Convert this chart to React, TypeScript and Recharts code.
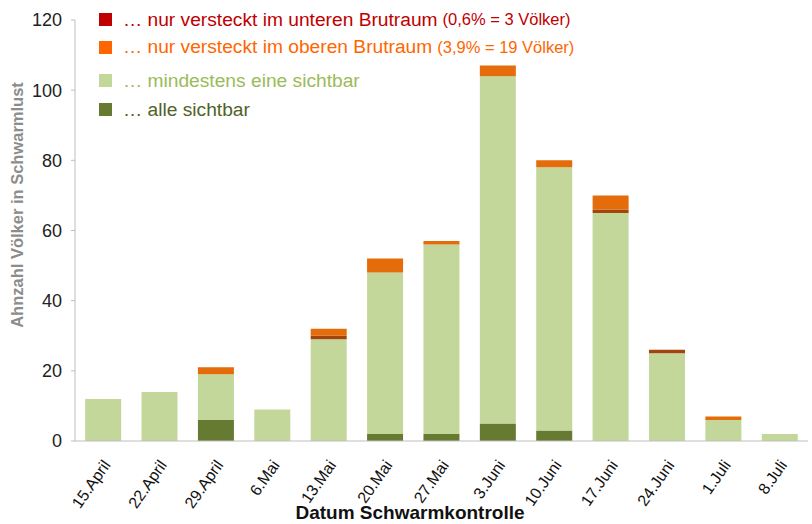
import { BarChart, Bar, XAxis, YAxis, Label } from 'recharts'

const categories = ['15.April', '22.April', '29.April', '6.Mai', '13.Mai', '20.Mai', '27.Mai', '3.Juni', '10.Juni', '17.Juni', '24.Juni', '1.Juli', '8.Juli']
const alleSichtbar = [0, 0, 6, 0, 0, 2, 2, 5, 3, 0, 0, 0, 0]
const mindestensEine = [12, 14, 13, 9, 29, 46, 54, 99, 75, 65, 25, 6, 2]
const nurUnten = [0, 0, 0, 0, 1, 0, 0, 0, 0, 1, 1, 0, 0]
const nurOben = [0, 0, 2, 0, 2, 4, 1, 3, 2, 4, 0, 1, 0]
const yTicks = [0, 20, 40, 60, 80, 100, 120]

const legendItems = [
  { text: '… nur versteckt im unteren Brutraum', note: '(0,6% = 3 Völker)', box: '#c00000', color: '#c00000' },
  { text: '… nur versteckt im oberen Brutraum', note: '(3,9% = 19 Völker)', box: '#ff6600', color: '#ff6600' },
  { text: '… mindestens eine sichtbar', note: '', box: '#c4d79b', color: '#9bbb59' },
  { text: '… alle sichtbar', note: '', box: '#677a31', color: '#4f6228' },
]

const data = categories.map((label, i) => ({
  label,
  alle: alleSichtbar[i],
  mind: mindestensEine[i],
  unten: nurUnten[i],
  oben: nurOben[i],
}))

const FONT = '"Liberation Sans", Arial, sans-serif'

function DateTick({ x, y, payload }: any) {
  const tx = x + 8
  const ty = y + 16
  return (
    <text
      x={tx}
      y={ty}
      transform={`rotate(-55 ${tx} ${ty})`}
      textAnchor="end"
      fontSize={16}
      fill="#111"
      fontFamily={FONT}
    >
      {payload.value}
    </text>
  )
}

function ChartLegend() {
  const rows = [19.5, 47, 80.5, 109.5]
  return (
    <div style={{ position: 'absolute', left: 0, top: 0, fontFamily: FONT }}>
      {legendItems.map((it, i) => (
        <div
          key={it.text}
          style={{ position: 'absolute', left: 99, top: rows[i] - 12, height: 24, display: 'flex', alignItems: 'center', whiteSpace: 'nowrap' }}
        >
          <span style={{ width: 13, height: 13, background: it.box, display: 'inline-block', marginRight: 11 }} />
          <span style={{ color: it.color, fontSize: 19.2 }}>{it.text}</span>
          {it.note && <span style={{ color: it.color, fontSize: 16.5, marginLeft: 5 }}>{it.note}</span>}
        </div>
      ))}
    </div>
  )
}

export default function App() {
  return (
    <div style={{ position: 'absolute', left: 0, top: 0, width: 812, height: 524, background: '#fff' }}>
      <BarChart
        width={812}
        height={524}
        data={data}
        margin={{ top: 20, right: 4, left: 0, bottom: 0 }}
        barCategoryGap="18%"
      >
        <XAxis
          dataKey="label"
          interval={0}
          height={83}
          tick={<DateTick />}
          tickLine={false}
          axisLine={{ stroke: '#bfbfbf' }}
        >
          <Label
            content={() => (
              <text x={410} y={519} textAnchor="middle" fontSize={19} fontWeight="bold" fill="#111" fontFamily={FONT}>
                Datum Schwarmkontrolle
              </text>
            )}
          />
        </XAxis>
        <YAxis
          width={75}
          domain={[0, 120]}
          ticks={yTicks}
          interval={0}
          tickSize={4}
          tickMargin={9}
          tick={{ fontSize: 18, fill: '#222', fontFamily: FONT }}
          tickLine={{ stroke: '#bfbfbf' }}
          axisLine={{ stroke: '#bfbfbf' }}
        >
          <Label
            content={() => (
              <text
                x={23}
                y={205}
                transform="rotate(-90 23 205)"
                textAnchor="middle"
                fontSize={16.5}
                fontWeight="bold"
                fill="#8c8c8c"
                fontFamily={FONT}
              >
                Ahnzahl Völker in Schwarmlust
              </text>
            )}
          />
        </YAxis>
        <Bar dataKey="alle" stackId="s" fill="#677a31" isAnimationActive={false} />
        <Bar dataKey="mind" stackId="s" fill="#c4d79b" isAnimationActive={false} />
        <Bar dataKey="unten" stackId="s" fill="#a3440c" isAnimationActive={false} />
        <Bar dataKey="oben" stackId="s" fill="#e46c0a" isAnimationActive={false} />
      </BarChart>
      <ChartLegend />
    </div>
  )
}
